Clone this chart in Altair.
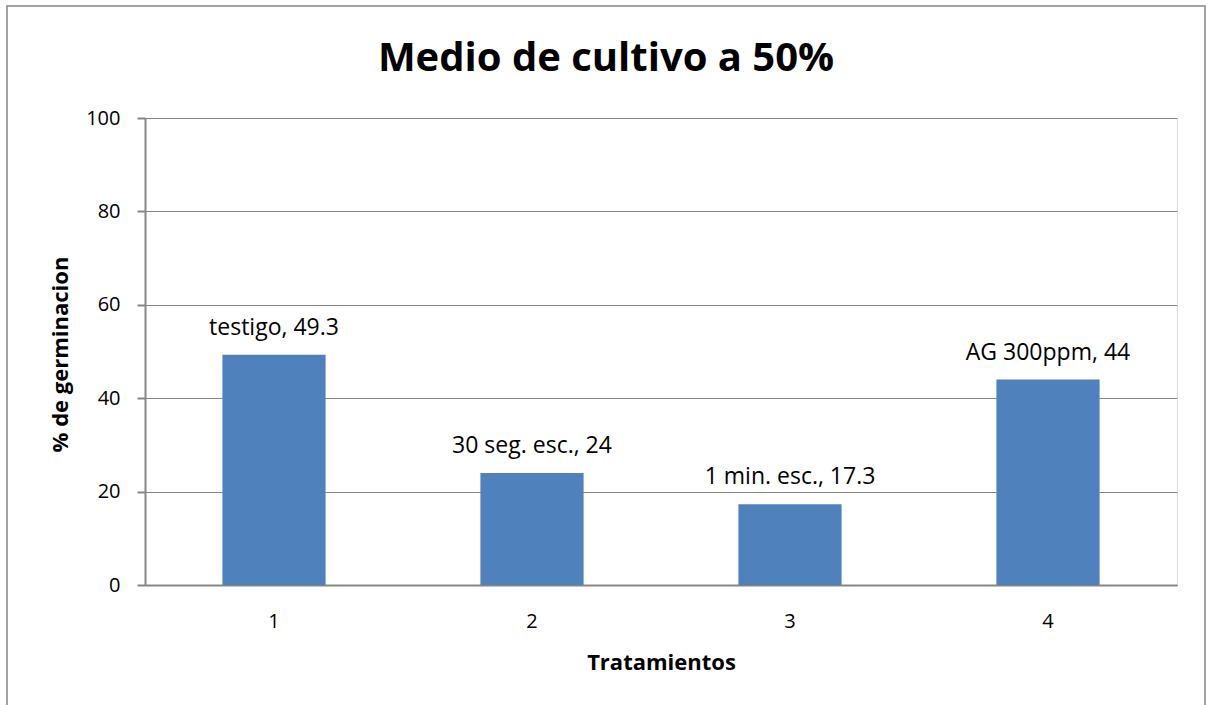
import altair as alt
import pandas as pd

categorias = ["1", "2", "3", "4"]
valores = [49.3, 24, 17.3, 44]
etiquetas = ["testigo, 49.3", "30 seg. esc., 24", "1 min. esc., 17.3", "AG 300ppm, 44"]

df = pd.DataFrame({"trat": categorias, "val": valores, "lab": etiquetas})
FONT = "Open Sans"
GRAY = "#868686"

base = alt.Chart(df)

bars = base.mark_bar(color="#4F81BD").encode(
    x=alt.X("trat:N", sort=categorias,
            scale=alt.Scale(paddingInner=0.6, paddingOuter=0.3),
            axis=alt.Axis(title="Tratamientos", labelAngle=0, ticks=False,
                          labelPadding=26, labelFontSize=20, labelFont=FONT,
                          labelColor="black", titleFont=FONT, titleFontSize=22,
                          titleFontWeight="bold", titleColor="black",
                          titleY=77, titleBaseline="middle",
                          domainColor=GRAY, domainWidth=2)),
    y=alt.Y("val:Q", scale=alt.Scale(domain=[0, 100], nice=False),
            axis=alt.Axis(title="% de germinacion", values=[0, 20, 40, 60, 80, 100],
                          tickSize=8, tickColor=GRAY, tickWidth=2, labelPadding=17,
                          labelFontSize=20, labelFont=FONT, labelColor="black",
                          titleFont=FONT, titleFontSize=22, titleFontWeight="bold",
                          titleColor="black", titleX=-85, titleY=236,
                          titleAngle=-90, titleAlign="center", titleBaseline="middle",
                          grid=True, gridColor=GRAY, gridWidth=1.2,
                          domainColor=GRAY, domainWidth=2)),
)

text = base.mark_text(font=FONT, fontSize=23, baseline="alphabetic", dy=-20,
                      color="black").encode(
    x=alt.X("trat:N", sort=categorias),
    y="val:Q",
    text="lab:N",
)

frame = alt.Chart(pd.DataFrame({"f": [0]})).mark_rect(
    fill=None, stroke=GRAY, strokeWidth=1.5).encode(
    x=alt.value(-138), x2=alt.value(1060), y=alt.value(-112), y2=alt.value(600)
)

chart = alt.layer(frame, bars, text).properties(
    width=1032, height=467,
    autosize=alt.AutoSizeParams(type="none"),
    padding={"left": 145, "top": 118, "right": 31, "bottom": 120},
    title=alt.TitleParams("Medio de cultivo a 50%", font=FONT, fontSize=40,
                          fontWeight="bold", color="black", anchor="middle",
                          frame="bounds", offset=-74),
).configure_view(stroke=None).configure(background="white")

chart.save("out.html", embed_options={"renderer": "svg", "actions": False})
